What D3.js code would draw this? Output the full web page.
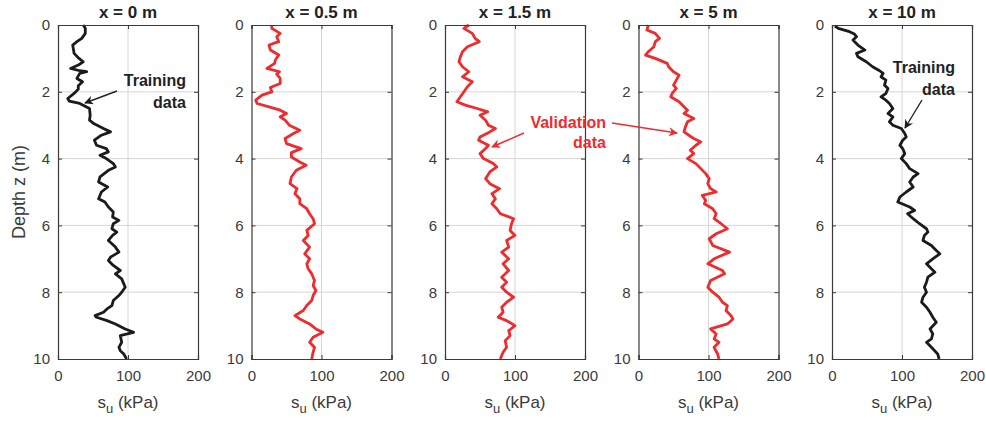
<!DOCTYPE html>
<html>
<head>
<meta charset="utf-8">
<script src="https://cdn.jsdelivr.net/npm/d3@7"></script>
<style>
  html, body { margin: 0; padding: 0; background: #fff; }
  svg { display: block; font-family: "Liberation Sans", Arial, Helvetica, sans-serif; }
</style>
</head>
<body>
<svg id="chart" width="986" height="421"></svg>
<script>
// ---------- DATA ----------
const panelTitles = ["x = 0 m", "x = 0.5 m", "x = 1.5 m", "x = 5 m", "x = 10 m"];
const panelRoles = ["training", "validation", "validation", "validation", "training"];
const xTicks = [0, 100, 200];
const yTicks = [0, 2, 4, 6, 8, 10];

const depth0 = [0,0.1,0.25,0.4,0.5,0.6,0.85,1.0,1.1,1.2,1.3,1.37,1.4,1.45,1.6,1.7,1.82,1.92,2.05,2.2,2.28,2.35,2.5,2.7,2.85,2.95,3.1,3.2,3.3,3.45,3.6,3.7,3.8,3.9,4.0,4.15,4.25,4.35,4.55,4.7,4.85,5.0,5.2,5.3,5.45,5.6,5.75,5.85,5.95,6.1,6.2,6.3,6.45,6.65,6.8,6.95,7.05,7.2,7.35,7.45,7.6,7.75,7.85,8.0,8.1,8.25,8.4,8.5,8.6,8.7,8.75,8.85,8.95,9.1,9.2,9.25,9.3,9.5,9.65,9.75,9.85,10.0];
const su0 = [36,39,39,34,27,21,23,30,36,29,18,31,41,31,27,35,29,29,23,14,16,31,45,46,45,51,65,75,62,52,55,69,72,60,69,79,82,72,60,58,71,62,58,67,72,79,78,87,79,77,84,78,72,82,87,75,72,79,89,82,91,94,96,91,87,79,77,70,65,53,55,70,82,96,108,99,89,91,87,89,94,98];

const depth05 = [0,0.1,0.25,0.35,0.5,0.6,0.75,0.9,1.05,1.15,1.3,1.4,1.47,1.6,1.75,1.87,2.0,2.1,2.25,2.35,2.45,2.55,2.65,2.75,2.85,3.0,3.15,3.25,3.4,3.55,3.7,3.82,3.95,4.1,4.2,4.35,4.55,4.75,4.9,5.05,5.2,5.35,5.5,5.65,5.8,5.95,6.15,6.3,6.45,6.65,6.85,7.0,7.15,7.3,7.45,7.65,7.8,7.95,8.1,8.25,8.4,8.55,8.7,8.8,8.95,9.1,9.2,9.35,9.5,9.65,9.8,10.0];
const su05 = [29,29,41,36,39,25,27,39,34,33,22,40,36,41,41,27,29,15,6,8,25,41,50,41,48,54,69,60,48,50,71,57,57,69,78,64,57,55,65,62,69,69,79,83,88,90,79,81,74,83,76,83,79,81,86,90,88,92,88,86,79,74,62,69,83,92,102,88,83,90,88,86];

const depth15 = [0,0.1,0.25,0.4,0.5,0.65,0.8,0.95,1.1,1.25,1.4,1.55,1.7,1.85,2.0,2.15,2.3,2.4,2.5,2.6,2.7,2.85,3.0,3.1,3.2,3.35,3.45,3.6,3.7,3.85,4.0,4.15,4.25,4.4,4.6,4.75,4.9,5.05,5.2,5.35,5.5,5.65,5.8,5.95,6.15,6.3,6.45,6.65,6.8,7.0,7.15,7.35,7.55,7.7,7.85,8.0,8.15,8.3,8.45,8.6,8.75,8.85,9.0,9.15,9.3,9.45,9.65,9.8,10.0];
const su15 = [34,27,39,43,49,32,25,22,20,25,34,25,39,32,27,22,17,29,46,61,50,58,62,72,64,50,48,62,58,50,55,69,74,64,58,64,78,67,72,67,74,79,98,95,93,100,88,91,81,91,83,91,81,88,81,88,98,88,81,83,76,88,100,91,93,86,88,83,79];

const depth5 = [0,0.15,0.25,0.4,0.5,0.65,0.8,0.9,1.0,1.15,1.25,1.4,1.5,1.65,1.8,1.9,2.05,2.15,2.3,2.45,2.55,2.65,2.8,2.9,3.05,3.2,3.3,3.4,3.5,3.6,3.75,3.85,4.0,4.15,4.3,4.45,4.6,4.75,4.9,5.0,5.1,5.25,5.35,5.5,5.65,5.8,5.95,6.1,6.25,6.4,6.6,6.8,7.0,7.15,7.35,7.45,7.65,7.85,8.0,8.15,8.3,8.4,8.55,8.7,8.8,8.95,9.1,9.25,9.4,9.5,9.65,9.85,10.0];
const su5 = [14,12,24,30,24,22,14,10,24,41,43,50,58,54,50,54,48,46,58,65,70,65,79,70,67,65,72,79,89,82,74,79,70,82,89,96,101,99,103,111,91,96,94,106,111,108,118,127,111,101,106,130,108,99,120,123,103,99,106,115,120,127,125,132,135,127,103,111,108,115,108,113,115];

const depth10 = [0.03,0.1,0.2,0.27,0.35,0.45,0.6,0.75,0.85,0.95,1.1,1.25,1.37,1.45,1.55,1.65,1.8,1.9,2.05,2.15,2.25,2.35,2.5,2.65,2.75,2.9,3.0,3.1,3.25,3.35,3.45,3.6,3.7,3.85,4.0,4.15,4.3,4.45,4.55,4.7,4.85,5.0,5.15,5.3,5.45,5.55,5.65,5.8,5.95,6.1,6.2,6.3,6.45,6.6,6.75,6.85,7.0,7.15,7.3,7.4,7.55,7.7,7.85,8.0,8.15,8.3,8.45,8.6,8.75,8.9,9.1,9.25,9.4,9.5,9.65,9.85,10.0];
const su10 = [4,9,25,32,35,30,37,47,35,37,49,58,68,73,70,77,75,80,77,70,77,82,87,80,87,82,87,99,104,106,101,97,101,104,99,106,111,123,116,111,116,106,97,94,111,118,108,116,125,135,137,132,130,142,149,154,144,135,142,147,137,135,132,135,130,128,135,140,144,149,140,144,142,135,142,151,153];

const seriesDepths = [depth0, depth05, depth15, depth5, depth10];
const seriesSu = [su0, su05, su15, su5, su10];

// ---------- LAYOUT ----------
const svg = d3.select("#chart");
const plotTop = 25, plotBottom = 359, pw = 140;
const panelLeft = d3.scaleLinear().domain([0, 4]).range([58, 832]);
const colors = { training: "#1b1b1b", validation: "#ee2b2e" };
const axisColor = "#3a3a3a";
const textColor = "#3a3a3a";

const yScale = d3.scaleLinear().domain([0, 10]).range([plotTop, plotBottom]);

panelTitles.forEach((title, i) => {
  const x0 = panelLeft(i);
  const xScale = d3.scaleLinear().domain([0, 200]).range([x0, x0 + pw]);
  const g = svg.append("g");

  // grid
  g.selectAll(".gx").data(xTicks.slice(1, -1)).enter().append("line")
    .attr("x1", d => xScale(d)).attr("x2", d => xScale(d))
    .attr("y1", plotTop).attr("y2", plotBottom)
    .attr("stroke", "#d6d6d6").attr("stroke-width", 1);
  g.selectAll(".gy").data(yTicks.slice(1, -1)).enter().append("line")
    .attr("x1", x0).attr("x2", x0 + pw)
    .attr("y1", d => yScale(d)).attr("y2", d => yScale(d))
    .attr("stroke", "#d6d6d6").attr("stroke-width", 1);

  // curve
  const pts = seriesDepths[i].map((d, k) => [seriesSu[i][k], d]);
  g.append("path")
    .datum(pts)
    .attr("fill", "none")
    .attr("stroke", colors[panelRoles[i]])
    .attr("stroke-width", 2.8)
    .attr("stroke-linejoin", "round")
    .attr("d", d3.line().x(p => xScale(p[0])).y(p => yScale(p[1])));

  // axes (ticks inward, MATLAB style)
  const axL = g.append("g").attr("transform", `translate(${x0},0)`)
    .call(d3.axisLeft(yScale).tickValues(yTicks).tickSize(-4).tickPadding(8).tickFormat(d3.format("d")));
  const axR = g.append("g").attr("transform", `translate(${x0 + pw},0)`)
    .call(d3.axisRight(yScale).tickValues(yTicks).tickSize(-4).tickFormat(""));
  const axB = g.append("g").attr("transform", `translate(0,${plotBottom})`)
    .call(d3.axisBottom(xScale).tickValues(xTicks).tickSize(-4).tickPadding(11).tickFormat(d3.format("d")));
  const axT = g.append("g").attr("transform", `translate(0,${plotTop})`)
    .call(d3.axisTop(xScale).tickValues(xTicks).tickSize(-4).tickFormat(""));
  [axL, axR, axB, axT].forEach(ax => {
    ax.select(".domain").attr("stroke", axisColor).attr("stroke-width", 1.2);
    ax.selectAll(".tick line").attr("stroke", axisColor);
    ax.selectAll("text").attr("fill", textColor).style("font-size", "15px")
      .style("font-family", '"Liberation Sans", Arial, sans-serif');
  });

  // title
  g.append("text")
    .attr("x", x0 + pw / 2).attr("y", 18)
    .attr("text-anchor", "middle")
    .attr("font-weight", "bold").attr("font-size", 17).attr("fill", "#222")
    .text(title);

  // x label s_u (kPa)
  const xl = g.append("text")
    .attr("x", x0 + pw / 2).attr("y", 408)
    .attr("text-anchor", "middle")
    .attr("font-size", 17).attr("fill", textColor);
  xl.append("tspan").text("s");
  xl.append("tspan").attr("dy", 5).attr("font-size", 13).text("u");
  xl.append("tspan").attr("dy", -5).text(" (kPa)");
});

// y label
svg.append("text")
  .attr("transform", `translate(25,${(plotTop + plotBottom) / 2}) rotate(-90)`)
  .attr("text-anchor", "middle")
  .attr("font-size", 18).attr("fill", textColor)
  .text("Depth z (m)");

// ---------- ANNOTATIONS ----------
const defs = svg.append("defs");
function marker(id, color) {
  defs.append("marker").attr("id", id)
    .attr("viewBox", "0 0 10 10").attr("refX", 9).attr("refY", 5)
    .attr("markerWidth", 9).attr("markerHeight", 9).attr("orient", "auto-start-reverse")
    .attr("markerUnits", "userSpaceOnUse")
    .append("path").attr("d", "M0,0 L10,5 L0,10 L3,5 Z").attr("fill", color);
}
marker("arrowK", "#1b1b1b");
marker("arrowR", "#ee2b2e");

function arrow(x1, y1, x2, y2, color, id) {
  svg.append("line").attr("x1", x1).attr("y1", y1).attr("x2", x2).attr("y2", y2)
    .attr("stroke", color).attr("stroke-width", 1.4)
    .attr("marker-end", `url(#${id})`);
}
function label(lines, xRight, yFirst, dy, color) {
  lines.forEach((t, k) => {
    svg.append("text").attr("x", xRight).attr("y", yFirst + k * dy)
      .attr("text-anchor", "end").attr("font-weight", "bold")
      .attr("font-size", 16).attr("fill", color).text(t);
  });
}

// Training (x = 0)
label(["Training", "data"], 186, 86, 22, "#222");
arrow(117, 91, 85, 103, "#222", "arrowK");
// Training (x = 10)
label(["Training", "data"], 955, 73, 22, "#222");
arrow(922, 100, 905, 128, "#222", "arrowK");
// Validation
label(["Validation", "data"], 606, 128, 20, "#ee2b2e");
arrow(524, 133, 492, 147, "#ee2b2e", "arrowR");
arrow(612, 123, 677, 133, "#ee2b2e", "arrowR");
</script>
</body>
</html>
